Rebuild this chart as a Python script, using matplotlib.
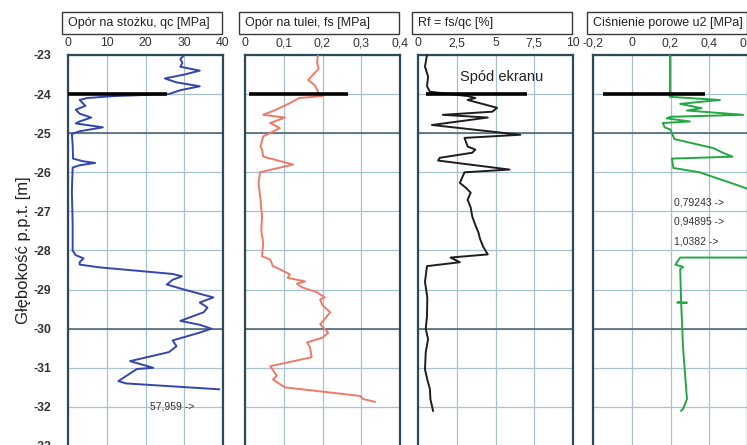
import matplotlib
matplotlib.use("Agg")
import matplotlib.pyplot as plt
from matplotlib.patches import Rectangle

plt.rcParams['font.family'] = ['Liberation Sans', 'DejaVu Sans']
plt.rcParams['axes.unicode_minus'] = False

# --- data -------------------------------------------------------------------
depth_qc = [-23.0, -23.1, -23.2, -23.3, -23.4, -23.5, -23.6, -23.7, -23.8, -23.9,
            -24.0, -24.05, -24.1, -24.15, -24.3, -24.4, -24.5, -24.6, -24.7, -24.75,
            -24.85, -24.95, -25.02, -25.3, -25.65, -25.72, -25.76, -25.82, -25.88, -26.5,
            -27.3, -28.0, -28.12, -28.2, -28.3, -28.36, -28.43, -28.6, -28.66, -28.75,
            -28.87, -29.0, -29.2, -29.33, -29.46, -29.58, -29.8, -29.9, -30.0, -30.1,
            -30.3, -30.45, -30.6, -30.83, -31.0, -31.03, -31.34, -31.4, -31.55]
qc = [30, 29, 29.5, 29, 34, 30, 25, 28, 34, 29,
      26, 12, 5, 3, 4.5, 2, 3, 6, 3, 2,
      9, 3, 1, 1.2, 1.3, 4, 7, 3, 1.2, 1,
      1.2, 1.2, 2, 4, 3, 3, 8, 27, 29.4, 27,
      25.5, 30, 37.5, 34, 36, 35, 29, 34, 37, 34,
      27, 28, 26, 16, 22, 17.8, 13, 15, 39]

depth_fs = [-23.0, -23.2, -23.35, -23.64, -23.77, -23.97, -24.05, -24.1, -24.23, -24.4,
            -24.53, -24.6, -24.74, -24.87, -25.08, -25.34, -25.42, -25.6, -25.8, -25.88,
            -26.0, -26.27, -26.7, -27.13, -27.5, -27.8, -28.15, -28.23, -28.4, -28.48,
            -28.61, -28.7, -28.79, -28.85, -28.94, -29.07, -29.2, -29.25, -29.4, -29.58,
            -29.89, -30.1, -30.23, -30.35, -30.48, -30.73, -30.96, -31.2, -31.3, -31.5,
            -31.72, -31.8, -31.87]
fs = [0.188, 0.186, 0.19, 0.163, 0.18, 0.19, 0.2, 0.14, 0.116, 0.08,
      0.047, 0.103, 0.065, 0.09, 0.047, 0.04, 0.044, 0.047, 0.124, 0.09,
      0.039, 0.035, 0.04, 0.044, 0.042, 0.047, 0.044, 0.065, 0.072, 0.09,
      0.116, 0.11, 0.155, 0.134, 0.147, 0.186, 0.206, 0.194, 0.2, 0.22,
      0.194, 0.215, 0.2, 0.16, 0.168, 0.172, 0.065, 0.082, 0.072, 0.103,
      0.297, 0.305, 0.335]

depth_rf = [-23.0, -23.3, -23.55, -23.8, -23.94, -24.05, -24.1, -24.15, -24.35, -24.45,
            -24.53, -24.6, -24.79, -25.04, -25.12, -25.34, -25.42, -25.5, -25.63, -25.7,
            -25.93, -26.0, -26.27, -26.4, -26.52, -26.7, -26.9, -27.13, -27.35, -27.54,
            -27.7, -27.9, -28.1, -28.18, -28.3, -28.4, -28.8, -29.2, -29.68, -30.0,
            -30.27, -30.6, -31.04, -31.3, -31.55, -31.8, -32.1]
rf = [0.58, 0.45, 0.65, 0.58, 0.77, 3.2, 3.7, 3.2, 5.1, 4.8,
      1.6, 4.5, 0.9, 6.6, 3.0, 3.2, 3.7, 3.5, 1.4, 1.3,
      5.9, 3.0, 2.7, 3.1, 3.4, 3.2, 3.4, 3.5, 3.7, 3.9,
      4.0, 4.2, 4.5, 2.1, 2.7, 0.58, 0.45, 0.6, 0.58, 0.5,
      0.65, 0.5, 0.45, 0.6, 0.77, 0.8, 0.97]

depth_u2 = [-23.0, -24.07, -24.15, -24.25, -24.36, -24.42, -24.53, -24.58, -24.62, -24.7,
            -24.74, -24.85, -24.91, -25.15, -25.38, -25.5, -25.6, -25.65, -25.89, -26.0,
            -26.32, -26.78, -27.26, -27.77, -28.18, -28.18, -28.36, -28.42, -28.48, -29.32,
            -29.33, -29.335, -29.34, -30.5, -31.8, -32.05, -32.1]
u2 = [0.197, 0.197, 0.455, 0.25, 0.36, 0.285, 0.575, 0.2, 0.18, 0.3,
      0.16, 0.17, 0.2, 0.22, 0.42, 0.47, 0.52, 0.207, 0.215, 0.35,
      0.54, 0.79243, 0.94895, 1.0382, 0.8, 0.25, 0.225, 0.265, 0.25, 0.255,
      0.235, 0.285, 0.255, 0.265, 0.285, 0.265, 0.255]

titles = ["Opór na stożku, qc [MPa]", "Opór na tulei, fs [MPa]",
          "Rf = fs/qc [%]", "Ciśnienie porowe u2 [MPa]"]
xlims = [(0, 40), (0, 0.4), (0, 10), (-0.2, 0.6)]
xticks = [[0, 10, 20, 30, 40], [0, 0.1, 0.2, 0.3, 0.4],
          [0, 2.5, 5, 7.5, 10], [-0.2, 0, 0.2, 0.4, 0.6]]
xticklabels = [["0", "10", "20", "30", "40"], ["0", "0,1", "0,2", "0,3", "0,4"],
               ["0", "2,5", "5", "7,5", "10"], ["-0,2", "0", "0,2", "0,4", "0,6"]]
screen_depth = -24.0
screen_x = [(0, 25.5), (0.01, 0.265), (0.5, 7.0), (-0.15, 0.38)]
line_colors = ["#3346b0", "#f07a68", "#1e1e1e", "#23a843"]
depths = [depth_qc, depth_fs, depth_rf, depth_u2]
values = [qc, fs, rf, u2]

# --- layout -------------------------------------------------------------------
W, H = 747, 445
fig = plt.figure(figsize=(W / 100, H / 100), dpi=100)
lefts_px = [68, 245, 418, 593]
top_px, bottom_px, width_px = 55, 446, 155
spine_col = "#2e4a5a"
grid_col = "#a9c0cf"

axes = []
for i, lp in enumerate(lefts_px):
    ax = fig.add_axes([lp / W, 1 - bottom_px / H, width_px / W,
                       (bottom_px - top_px) / H])
    ax.set_xlim(*xlims[i])
    ax.set_ylim(-33, -23)
    ax.set_xticks(xticks[i])
    ax.set_xticklabels(xticklabels[i])
    ax.xaxis.tick_top()
    ax.set_yticks(range(-33, -22))
    ax.tick_params(length=0, labelsize=8.8, colors="#333333", pad=4)
    if i > 0:
        ax.set_yticklabels([])
    else:
        ax.tick_params(axis="y", pad=12)
        for lab in ax.get_yticklabels():
            lab.set_fontweight("bold")
    ax.grid(True, color=grid_col, linewidth=0.9)
    for d in (-25, -30):
        ax.axhline(d, color="#4f6a7a", linewidth=1.2, zorder=1)
    for s in ax.spines.values():
        s.set_color(spine_col)
        s.set_linewidth(1.6)
    ax.set_axisbelow(True)

    ax.plot(values[i], depths[i], color=line_colors[i], linewidth=1.4, zorder=3)
    ax.plot(screen_x[i], [screen_depth, screen_depth], color="black",
            linewidth=2.6, zorder=4, solid_capstyle="butt")

    # title box above the panel
    bx, by, bw, bh = lp - 6, 12, 160, 22
    fig.patches.append(Rectangle((bx / W, 1 - (by + bh) / H), bw / W, bh / H,
                                 transform=fig.transFigure, fill=False,
                                 edgecolor="#3a3a3a", linewidth=1.0))
    fig.text((bx + 6) / W, 1 - (by + bh / 2) / H, titles[i], fontsize=9,
             va="center", ha="left", color="#222222")
    axes.append(ax)

axes[0].set_ylabel("Głębokość p.p.t. [m]", fontsize=12, color="#222222",
                   labelpad=2)
axes[0].text(21.2, -31.98, "57,959 ->", fontsize=7.5, va="center", color="#333333")
axes[2].text(2.7, -23.55, "Spód ekranu", fontsize=10.5, va="center", color="#222222")
for d, t in zip([-26.78, -27.26, -27.77], ["0,79243 ->", "0,94895 ->", "1,0382 ->"]):
    axes[3].text(0.22, d, t, fontsize=7.5, va="center", color="#333333")

fig.savefig("out.png", dpi=100)
